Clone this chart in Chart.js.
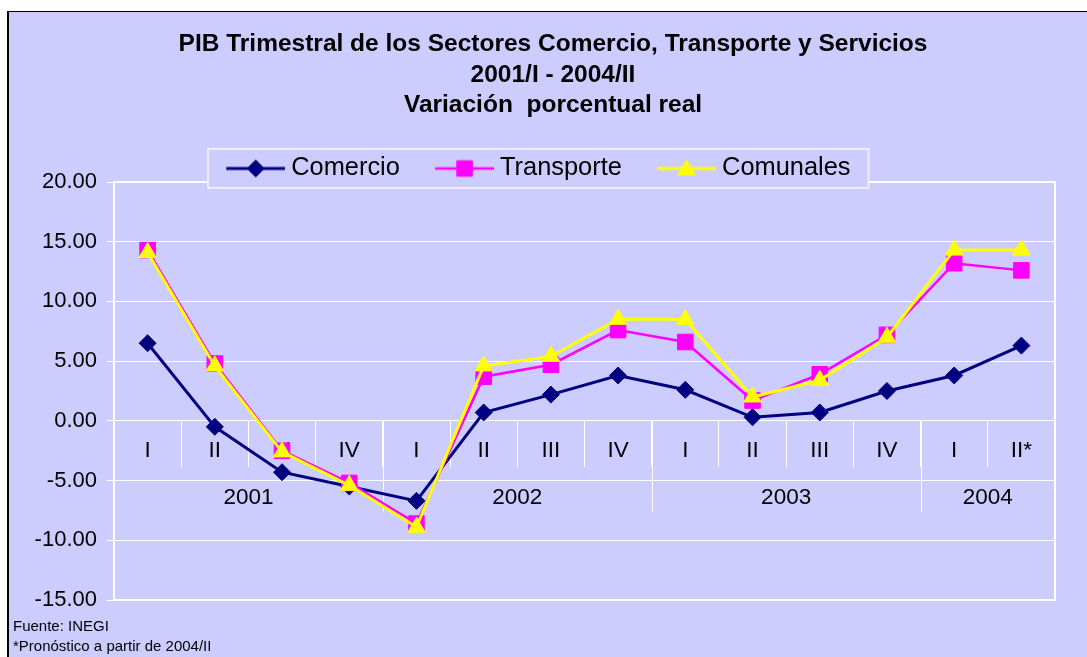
<!DOCTYPE html>
<html>
<head>
<meta charset="utf-8">
<script src="https://cdn.jsdelivr.net/npm/chart.js@4.4.1/dist/chart.umd.min.js"></script>
<style>
html, body { margin: 0; padding: 0; background: #ffffff; width: 1087px; height: 657px; overflow: hidden; }
#frame { position: absolute; left: 7px; top: 11px; width: 1200px; height: 800px; border-left: 2px solid #000; border-top: 1px solid #000; background: #CCCCFF; }
#wrap { position: absolute; left: 0; top: 0; width: 1087px; height: 657px; }
.note { position: absolute; left: 13px; font: 15px "Liberation Sans", Arial, sans-serif; color: #000; line-height: 20px; white-space: nowrap; }
</style>
</head>
<body>
<div id="frame"></div>
<div id="wrap"><canvas id="c" width="1087" height="657"></canvas></div>
<div class="note" style="top:616px">Fuente: INEGI</div>
<div class="note" style="top:636px">*Pronóstico a partir de 2004/II</div>
<script>
// ---- data ----
const titleLines = [
  'PIB Trimestral de los Sectores Comercio, Transporte y Servicios',
  '2001/I - 2004/II',
  'Variación  porcentual real'
];
const quarters = ['I', 'II', 'III', 'IV', 'I', 'II', 'III', 'IV', 'I', 'II', 'III', 'IV', 'I', 'II*'];
const years = ['2001', '2002', '2003', '2004'];
const quartersPerYear = [4, 4, 4, 2];
const seriesNames = ['Comercio', 'Transporte', 'Comunales'];
const comercio   = [6.5, -0.5, -4.3, -5.5, -6.7, 0.7, 2.2, 3.8, 2.6, 0.3, 0.7, 2.5, 3.8, 6.3];
const transporte = [14.3, 4.8, -2.5, -5.2, -8.6, 3.7, 4.7, 7.6, 6.6, 1.7, 3.9, 7.2, 13.2, 12.6];
const comunales  = [14.1, 4.6, -2.6, -5.4, -8.9, 4.6, 5.4, 8.5, 8.5, 2.0, 3.4, 7.0, 14.3, 14.3];
const yTickValues = [-15, -10, -5, 0, 5, 10, 15, 20];

// ---- styling ----
const FONT = '"Liberation Sans", Arial, sans-serif';
const BG = '#CCCCFF';
const styles = [
  { color: '#000080', pointStyle: 'rectRot', radius: 8.5, width: 3 },
  { color: '#FF00FF', pointStyle: 'rect', radius: 11, width: 2.5 },
  { color: '#FFFF00', pointStyle: 'triangle', radius: 10, width: 3 }
];
const seriesData = [comercio, transporte, comunales];

function legendImage(st) {
  const cv = document.createElement('canvas');
  cv.width = 66; cv.height = 24;
  const g = cv.getContext('2d');
  g.strokeStyle = st.color; g.lineWidth = st.width;
  g.beginPath(); g.moveTo(7, 12); g.lineTo(66, 12); g.stroke();
  g.fillStyle = st.color; g.strokeStyle = st.color; g.lineWidth = 1;
  Chart.helpers.drawPoint(g, { pointStyle: st.pointStyle, radius: st.radius, rotation: 0, borderWidth: 1 }, 36.5, st.pointStyle === 'triangle' ? 13.5 : 12);
  return cv;
}
const legendImgs = styles.map(legendImage);

const decor = {
  id: 'decor',
  afterLayout(chart) {
    const lg = chart.legend;
    lg.left = 191;
    lg.bottom = lg.top + 80;
    const tb = chart.titleBlock;
    if (tb) { tb.left = 51; }
  },
  beforeDatasetsDraw(chart) {
    const { ctx, chartArea: a, scales } = chart;
    const x = scales.x, y = scales.y;
    ctx.save();
    ctx.strokeStyle = '#ffffff';
    ctx.lineWidth = 2;
    ctx.strokeRect(a.left, a.top, a.right - a.left, a.bottom - a.top);
    const y0 = y.getPixelForValue(0);
    const half = (x.getPixelForValue(1) - x.getPixelForValue(0)) / 2;
    ctx.font = '22.5px ' + FONT;
    ctx.fillStyle = '#000';
    ctx.textAlign = 'center';
    ctx.textBaseline = 'middle';
    ctx.lineWidth = 1;
    let start = 0;
    years.forEach((yr, i) => {
      const n = quartersPerYear[i];
      const xl = x.getPixelForValue(start) - half;
      const xr = x.getPixelForValue(start + n - 1) + half;
      ctx.fillText(yr, (xl + xr) / 2, y0 + 77);
      if (i > 0) {
        ctx.beginPath();
        ctx.moveTo(Math.round(xl) + 0.5, y0);
        ctx.lineTo(Math.round(xl) + 0.5, y0 + 91);
        ctx.stroke();
      }
      start += n;
    });
    ctx.restore();
  },
  afterDatasetsDraw(chart) {
    const { ctx } = chart;
    const lg = chart.legend;
    const hb = lg.legendHitBoxes;
    if (!hb || !hb.length) return;
    const last = hb[hb.length - 1];
    const l = hb[0].left - 18;
    const r = last.left + last.width + 18;
    const cy = hb[0].top + hb[0].height / 2;
    ctx.save();
    ctx.fillStyle = BG;
    ctx.fillRect(l, cy - 19.5, r - l, 39);
    ctx.strokeStyle = '#EEEEFF';
    ctx.lineWidth = 2;
    ctx.strokeRect(l, cy - 19.5, r - l, 39);
    ctx.restore();
    lg.draw();
  }
};

new Chart(document.getElementById('c'), {
  type: 'line',
  data: {
    labels: quarters,
    datasets: seriesNames.map((name, i) => ({
      label: name,
      data: seriesData[i],
      borderColor: styles[i].color,
      backgroundColor: styles[i].color,
      borderWidth: styles[i].width,
      pointStyle: styles[i].pointStyle,
      pointRadius: styles[i].radius,
      pointBorderWidth: 1,
      pointBackgroundColor: styles[i].color,
      pointBorderColor: styles[i].color,
      tension: 0,
      fill: false,
      order: 2 - i
    }))
  },
  options: {
    responsive: false,
    animation: false,
    devicePixelRatio: 1,
    layout: { padding: { left: 20, right: 32, top: 0, bottom: 57 } },
    plugins: {
      tooltip: { enabled: false },
      title: {
        display: true,
        text: titleLines,
        color: '#000',
        font: { family: FONT, size: 24.5, weight: 'bold', lineHeight: '30.5px' },
        padding: { top: 29.25, bottom: 0 }
      },
      legend: {
        display: true,
        position: 'top',
        align: 'start',
        maxHeight: 61.25,
        labels: {
          usePointStyle: true,
          pointStyleWidth: 52.5,
          padding: 35,
          color: '#000',
          font: { family: FONT, size: 25.4 },
          generateLabels(chart) {
            return chart.data.datasets.map((ds, i) => ({
              text: ds.label,
              pointStyle: legendImgs[i],
              fillStyle: ds.borderColor,
              strokeStyle: ds.borderColor,
              lineWidth: 0,
              hidden: false,
              datasetIndex: i,
              fontColor: '#000'
            }));
          }
        }
      }
    },
    scales: {
      x: {
        type: 'category',
        offset: true,
        position: { y: 0 },
        grid: { offset: true, drawOnChartArea: false, drawTicks: true, tickLength: 46, color: '#ffffff', lineWidth: 1 },
        border: { display: true, color: '#ffffff', width: 1 },
        ticks: { padding: -30, color: '#000', font: { family: FONT, size: 22.5 }, maxRotation: 0, autoSkip: false }
      },
      y: {
        min: -15,
        max: 20,
        afterBuildTicks(scale) { scale.ticks = yTickValues.map(v => ({ value: v })); },
        afterFit(scale) { scale.width = 94; },
        ticks: { padding: 10, color: '#000', font: { family: FONT, size: 22 }, callback: v => Number(v).toFixed(2) },
        grid: { color: '#ffffff', lineWidth: 1, tickLength: 7, drawTicks: true },
        border: { display: true, color: '#ffffff', width: 2 }
      }
    }
  },
  plugins: [decor]
});
</script>
</body>
</html>
